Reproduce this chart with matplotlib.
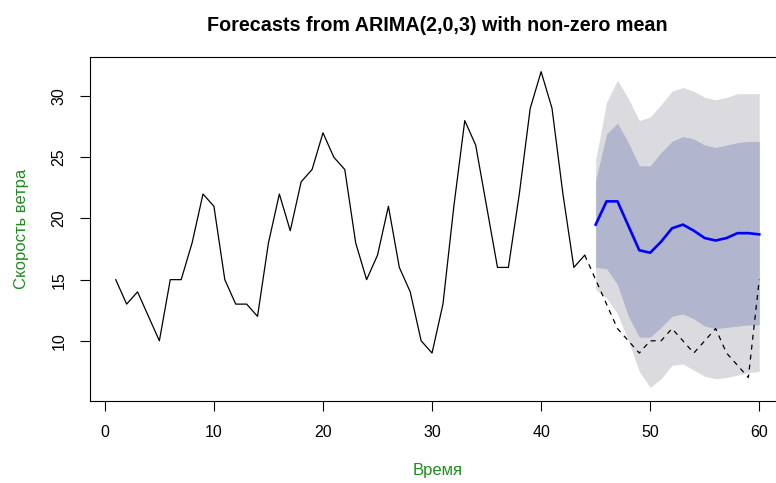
"""Wind speed forecast from ARIMA(2,0,3): history, hold-out and forecast bands."""

import matplotlib.pyplot as plt
import numpy as np

plt.rcParams["font.family"] = ["Liberation Sans", "DejaVu Sans"]

# observed series (t = 1..44)
obs_t = np.arange(1, 45)
obs_y = [15, 13, 14, 12, 10, 15, 15, 18, 22, 21,
         15, 13, 13, 12, 18, 22, 19, 23, 24, 27,
         25, 24, 18, 15, 17, 21, 16, 14, 10, 9,
         13, 21, 28, 26, 21, 16, 16, 22, 29, 32,
         29, 22, 16, 17]

# hold-out actuals (dashed), t = 44..60
test_t = np.arange(44, 61)
test_y = [17, 15, 13, 11, 10, 9, 10, 10, 11, 10, 9, 10, 11, 9, 8, 7, 15]

# forecast, t = 45..60
fc_t = np.arange(45, 61)
fc_mean = [19.5, 21.4, 21.4, 19.4, 17.4, 17.2, 18.1, 19.2,
           19.5, 19.0, 18.4, 18.2, 18.4, 18.8, 18.8, 18.7]
lo80 = [16.0, 15.9, 14.6, 12.0, 10.3, 10.3, 11.1, 12.0,
        12.2, 11.8, 11.2, 11.0, 11.1, 11.2, 11.3, 11.3]
hi80 = [23.1, 26.9, 27.8, 26.2, 24.3, 24.3, 25.4, 26.3,
        26.7, 26.5, 26.0, 25.8, 26.0, 26.2, 26.3, 26.3]
lo95 = [14.2, 13.5, 12.2, 10.0, 7.5, 6.2, 6.9, 8.0,
        8.1, 7.6, 7.1, 6.9, 7.0, 7.2, 7.4, 7.5]
hi95 = [24.8, 29.5, 31.3, 29.8, 28.0, 28.3, 29.3, 30.4,
        30.7, 30.4, 29.9, 29.7, 29.9, 30.2, 30.2, 30.2]

X_TICKS = [0, 10, 20, 30, 40, 50, 60]
Y_TICKS = [10, 15, 20, 25, 30]
GREEN = "#228B22"

W, H = 776, 483
fig = plt.figure(figsize=(W / 100, H / 100), dpi=100)
# plot region extends past the right edge of the image, as in the original
ax = fig.add_axes([90 / W, 1 - 401 / H, (785 - 90) / W, (401 - 57) / H])

ax.fill_between(fc_t, lo95, hi95, color="#DBDBDF", lw=0)
ax.fill_between(fc_t, lo80, hi80, color="#B1B5CE", lw=0)
ax.plot(test_t, test_y, color="black", lw=0.9, ls=(0, (4, 4)))
ax.plot(obs_t, obs_y, color="black", lw=0.9)
ax.plot(fc_t, fc_mean, color="#0000FF", lw=1.9)

ax.set_xlim(-1.36, 62.36)
ax.set_ylim(5.08, 33.2)
ax.set_xticks(X_TICKS)
ax.set_yticks(Y_TICKS)
ax.tick_params(length=7, width=0.8, labelsize=11.5, pad=10)
ax.tick_params(axis="y", labelrotation=90)
for lbl in ax.get_yticklabels():
    lbl.set_verticalalignment("center")
for sp in ax.spines.values():
    sp.set_linewidth(0.8)

ax.set_title("Forecasts from ARIMA(2,0,3) with non-zero mean",
             fontsize=14.2, fontweight="bold", pad=19)
ax.set_xlabel("Время", color=GREEN, fontsize=12, labelpad=17)
ax.set_ylabel("Скорость ветра", color=GREEN, fontsize=12, labelpad=16)

fig.savefig("out.png", dpi=100)
